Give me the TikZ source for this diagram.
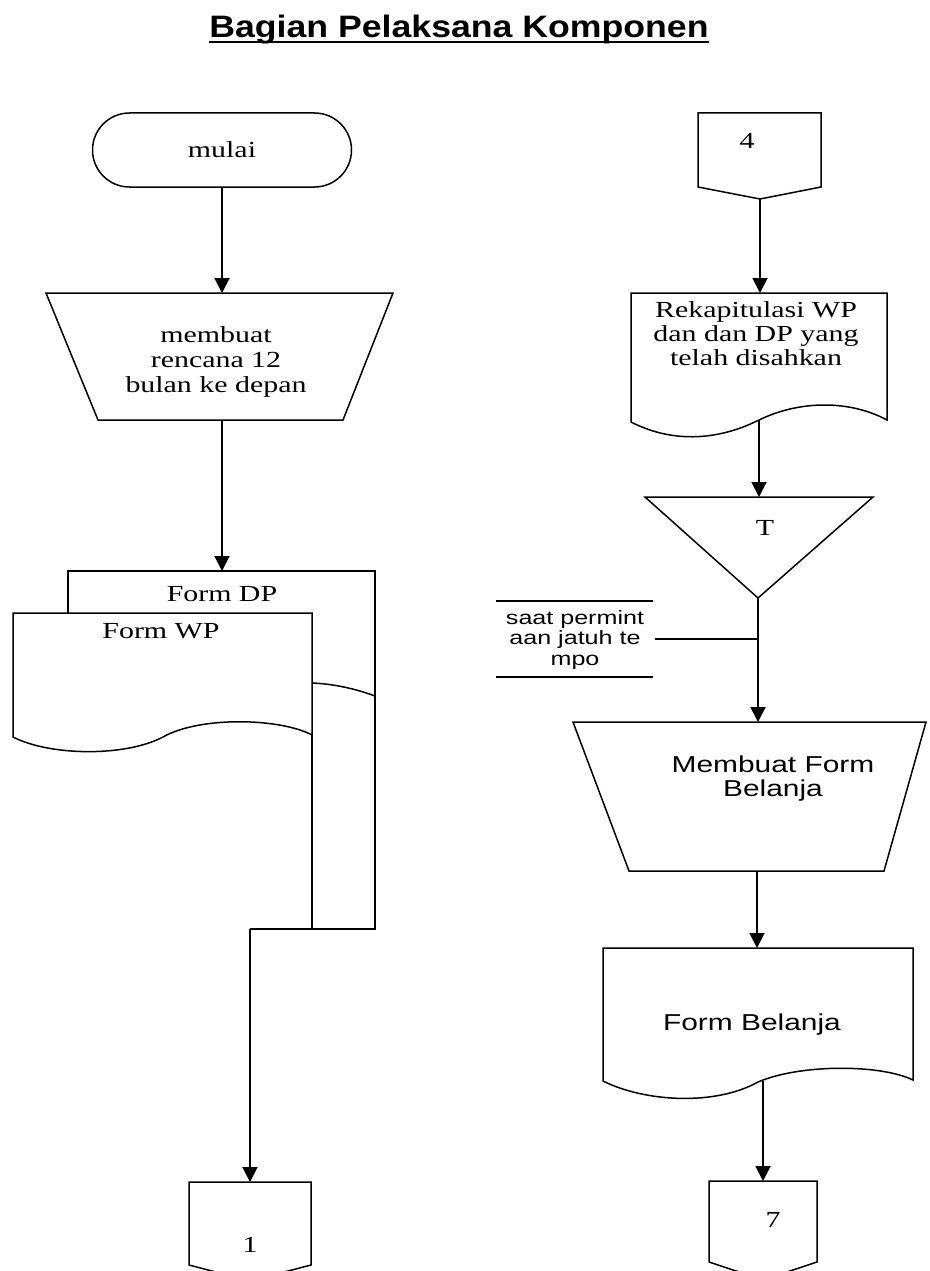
\documentclass[tikz,border=0pt]{standalone}
\usepackage{fontspec}
\setmainfont{Liberation Serif}[FakeStretch=1.3]
\newfontfamily\sansfont{Liberation Sans}[FakeStretch=1.3]
\newfontfamily\headfont{Liberation Sans}[FakeStretch=1.15]
\usetikzlibrary{arrows.meta,shapes.misc}

\begin{document}
\begin{tikzpicture}[x=1pt,y=-1pt,line join=miter,
  outline/.style={line width=1.5pt},
  flow/.style={line width=1.9pt},
  arr/.style={line width=1.9pt,-{Triangle[width=15pt,length=15pt]}},
  lbl/.style={inner sep=0pt},
  serif/.style={lbl,font=\fontsize{23}{25}\selectfont},
  sans/.style={lbl,font=\sansfont\fontsize{23}{24}\selectfont},
  note/.style={lbl,font=\sansfont\fontsize{19.3}{20.5}\selectfont}]
\useasboundingbox (0,0) rectangle (929,1271);

% heading
\node[lbl,font=\headfont\bfseries\fontsize{31}{32}\selectfont,anchor=base] (title) at (459,38) {Bagian Pelaksana Komponen};
\draw[line width=2.2pt] ([yshift=-4pt]title.base west) -- ([yshift=-4pt]title.base east);

% ---------- left column ----------
\node[draw,outline,rounded rectangle,minimum width=259pt,minimum height=74pt,
      font=\fontsize{23}{25}\selectfont,inner sep=0pt] (mulai) at (222,150) {mulai};

% manual operation: membuat rencana
\draw[outline] (46,293) -- (393,293) -- (343,420) -- (98,420) -- cycle;
\coordinate (buatN) at (222,293);
\coordinate (buatS) at (222,420);
\node[serif,align=center] (buatT) at (216,362) {membuat\\rencana 12\\bulan ke depan};

% documents: Form DP behind Form WP
\coordinate (dpN) at (222,571);
\draw[outline] (68,613) -- (68,571) -- (375,571) -- (375,929) -- (312,929);
\draw[outline] (312,683) .. controls (335,684) and (356,689) .. (375,696);
\node[serif,anchor=base] (dpT) at (222,601) {Form DP};

\draw[outline] (13,613) -- (312,613) -- (312,735)
  .. controls (280,718) and (200,716) .. (163,737)
  .. controls (125,757) and (50,756) .. (13,737) -- cycle;
\coordinate (wpE) at (312,735);
\node[serif,anchor=base] (wpT) at (161,638) {Form WP};

% off-page connector 1
\draw[outline] (189,1182) -- (311,1182) -- (311,1265) -- (250,1281) -- (189,1265) -- cycle;
\coordinate (c1N) at (250,1182);
\node[serif,anchor=base] (c1T) at (250,1252) {1};

\coordinate (jog) at (250,929);
\draw[arr] (mulai.south) -- (buatN);
\draw[arr] (buatS) -- (dpN);
\draw[flow] (wpE) -- (312,929) -- (jog);
\draw[arr] (jog) -- (c1N);

% ---------- right column ----------
% off-page connector 4
\draw[outline] (698,113) -- (821,113) -- (821,187) -- (760,199) -- (698,187) -- cycle;
\coordinate (c4S) at (760,199);
\node[serif,anchor=base] (c4T) at (747,148) {4};

% document: rekapitulasi
\draw[outline] (631,293) -- (887,293) -- (887,420)
  .. controls (850,400) and (800,400) .. (759,420)
  .. controls (715,442) and (670,442) .. (631,422) -- cycle;
\coordinate (rekN) at (760,293);
\coordinate (rekS) at (759,420);
\node[lbl,align=center,font=\fontsize{23}{24}\selectfont] (rekT) at (756,334) {Rekapitulasi WP\\dan dan DP yang\\telah disahkan};

% offline file T
\draw[outline] (645,497) -- (873,497) -- (758,598) -- cycle;
\coordinate (triN) at (759,497);
\coordinate (triS) at (758,598);
\node[serif,anchor=base] (triT) at (765,535) {T};

% annotation
\draw[outline] (496,601) -- (653,601);
\draw[outline] (496,677) -- (653,677);
\node[note,align=center] (ket) at (575,640) {saat permint\\aan jatuh te\\mpo};
\coordinate (ketE) at (655,639);

% manual operation: membuat form belanja
\draw[outline] (573,722) -- (926,722) -- (884,871) -- (629,871) -- cycle;
\coordinate (mbN) at (758,722);
\coordinate (mbS) at (757,871);
\node[sans,align=center] (mbT) at (773,779) {Membuat Form\\Belanja};

% document: form belanja
\draw[outline] (603,948) -- (913,948) -- (913,1080)
  .. controls (880,1064) and (800,1064) .. (758,1082)
  .. controls (715,1106) and (645,1102) .. (603,1081) -- cycle;
\coordinate (fbN) at (757,948);
\coordinate (fbS) at (763,1081);
\node[sans,anchor=base] (fbT) at (752,1030) {Form Belanja};

% off-page connector 7
\draw[outline] (709,1181) -- (817,1181) -- (817,1262) -- (763,1280) -- (709,1262) -- cycle;
\coordinate (c7N) at (763,1181);
\node[serif,anchor=base] (c7T) at (773,1227) {7};

\draw[arr] (c4S) -- (rekN);
\draw[arr] (rekS) -- (triN);
\draw[arr] (triS) -- (mbN);
\draw[outline] (ketE) -- (ketE -| triS);
\draw[arr] (mbS) -- (fbN);
\draw[arr] (fbS) -- (c7N);
\end{tikzpicture}
\end{document}
